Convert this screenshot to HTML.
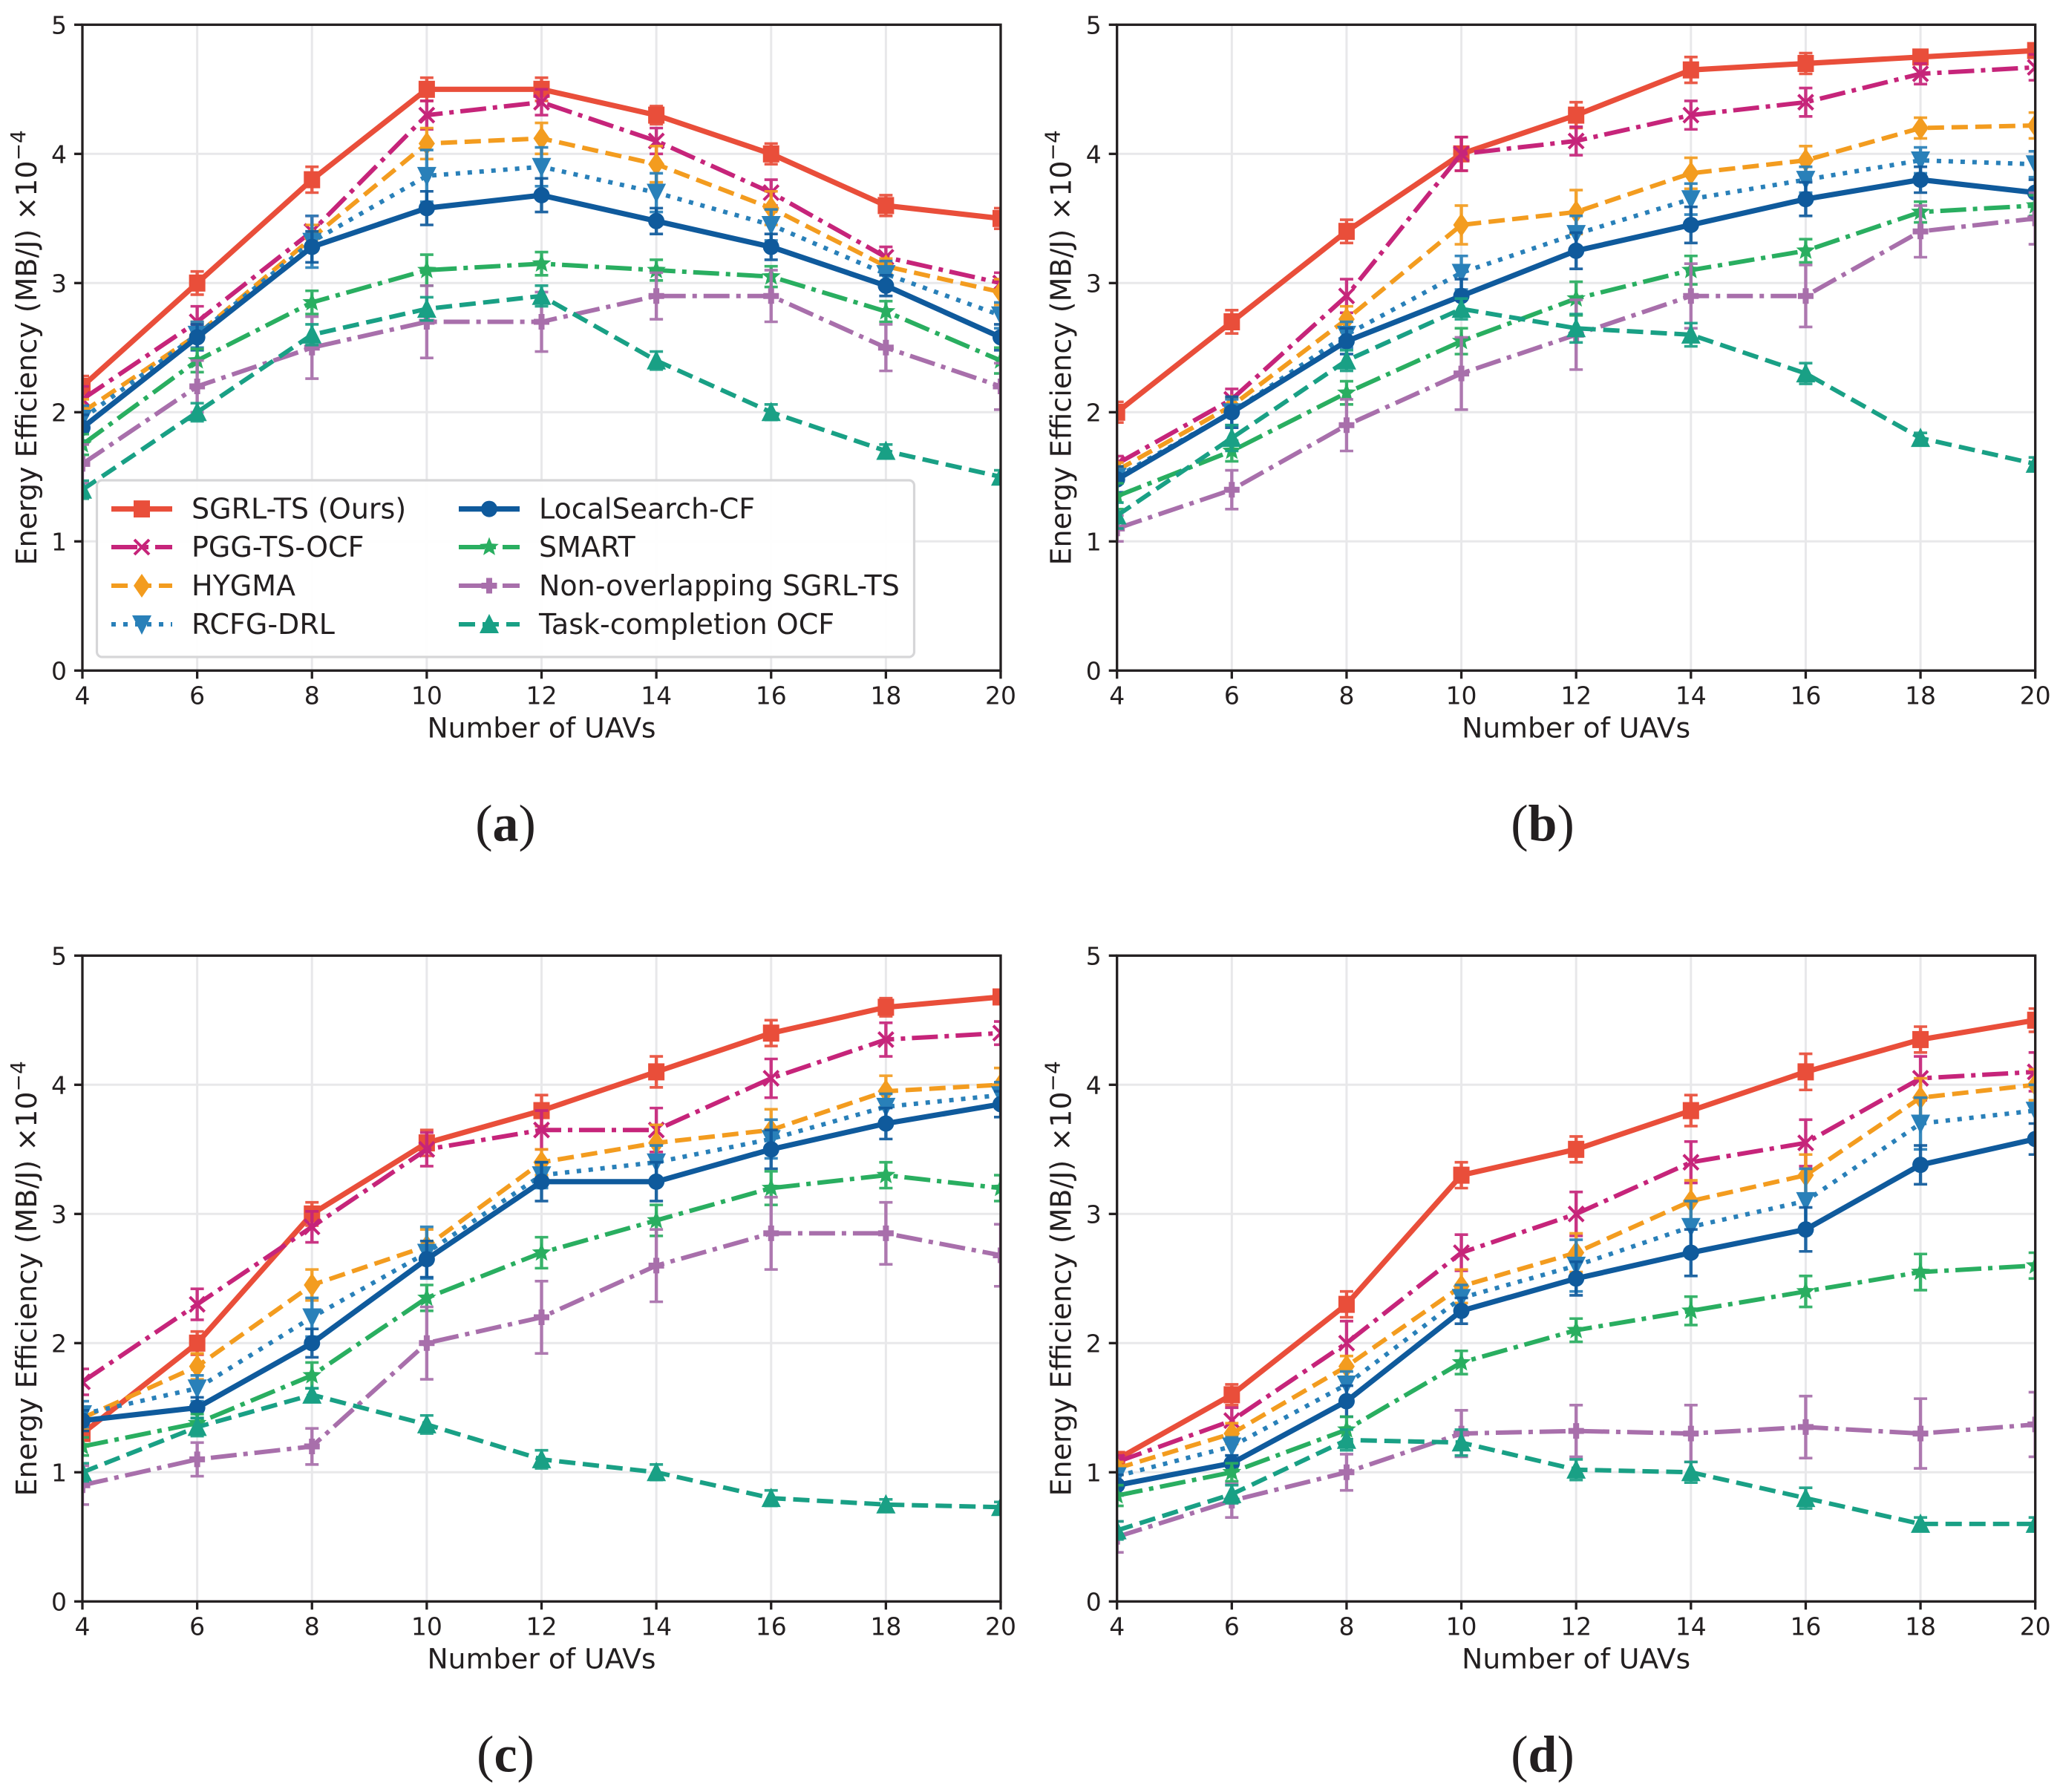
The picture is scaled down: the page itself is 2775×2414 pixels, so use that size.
<!DOCTYPE html>
<html lang="en">
<head>
<meta charset="utf-8">
<title>Energy efficiency versus number of UAVs</title>
<style>
html,body{margin:0;padding:0;background:#fff;}
#chart{display:block;position:absolute;left:0;top:0;}
text{fill:#231f20;font-family:"DejaVu Sans","Liberation Sans",sans-serif;}
.cap{font-family:"Liberation Serif","DejaVu Serif",serif;}
</style>
</head>
<body>
<svg id="chart" xmlns="http://www.w3.org/2000/svg" width="2775" height="2414" viewBox="0 0 2775 2414"></svg>
<script>
// ---- shared axes data ----
const uavCounts = [4, 6, 8, 10, 12, 14, 16, 18, 20];
const xTickLabels = ['4', '6', '8', '10', '12', '14', '16', '18', '20'];
const yTickLabels = ['0', '1', '2', '3', '4', '5'];
const seriesLabels = ['SGRL-TS (Ours)', 'PGG-TS-OCF', 'HYGMA', 'RCFG-DRL', 'LocalSearch-CF', 'SMART', 'Non-overlapping SGRL-TS', 'Task-completion OCF'];

// ---- panel (a) ----
const aSgrl = [2.2, 3.0, 3.8, 4.5, 4.5, 4.3, 4.0, 3.6, 3.5];
const aPgg = [2.1, 2.7, 3.4, 4.3, 4.4, 4.1, 3.7, 3.2, 3.0];
const aHygma = [2.0, 2.6, 3.35, 4.08, 4.12, 3.92, 3.58, 3.13, 2.93];
const aRcfg = [1.95, 2.6, 3.32, 3.83, 3.9, 3.7, 3.45, 3.07, 2.75];
const aLocal = [1.88, 2.58, 3.28, 3.58, 3.68, 3.48, 3.28, 2.98, 2.58];
const aSmart = [1.75, 2.4, 2.85, 3.1, 3.15, 3.1, 3.05, 2.78, 2.4];
const aNon = [1.6, 2.2, 2.5, 2.7, 2.7, 2.9, 2.9, 2.5, 2.2];
const aTask = [1.4, 2.0, 2.6, 2.8, 2.9, 2.4, 2.0, 1.7, 1.5];
const aSgrlErr = [0.08, 0.09, 0.1, 0.09, 0.09, 0.07, 0.08, 0.08, 0.08];
const aPggErr = [0.1, 0.12, 0.12, 0.11, 0.1, 0.1, 0.1, 0.08, 0.08];
const aHygmaErr = [0.1, 0.1, 0.1, 0.12, 0.12, 0.14, 0.13, 0.06, 0.1];
const aRcfgErr = [0.1, 0.1, 0.2, 0.2, 0.15, 0.15, 0.12, 0.1, 0.1];
const aLocalErr = [0.1, 0.1, 0.12, 0.13, 0.13, 0.1, 0.1, 0.08, 0.1];
const aSmartErr = [0.08, 0.09, 0.09, 0.12, 0.09, 0.08, 0.08, 0.08, 0.1];
const aNonErr = [0.15, 0.2, 0.24, 0.28, 0.23, 0.18, 0.2, 0.18, 0.18];
const aTaskErr = [0.07, 0.07, 0.08, 0.09, 0.08, 0.07, 0.06, 0.05, 0.05];

// ---- panel (b) ----
const bSgrl = [2.0, 2.7, 3.4, 4.0, 4.3, 4.65, 4.7, 4.75, 4.8];
const bPgg = [1.6, 2.1, 2.9, 4.0, 4.1, 4.3, 4.4, 4.62, 4.67];
const bHygma = [1.55, 2.05, 2.72, 3.45, 3.55, 3.85, 3.95, 4.2, 4.22];
const bRcfg = [1.5, 2.0, 2.6, 3.08, 3.38, 3.65, 3.8, 3.95, 3.92];
const bLocal = [1.48, 2.0, 2.55, 2.9, 3.25, 3.45, 3.65, 3.8, 3.7];
const bSmart = [1.35, 1.7, 2.15, 2.55, 2.88, 3.1, 3.25, 3.55, 3.6];
const bNon = [1.1, 1.4, 1.9, 2.3, 2.6, 2.9, 2.9, 3.4, 3.5];
const bTask = [1.2, 1.8, 2.4, 2.8, 2.65, 2.6, 2.3, 1.8, 1.6];
const bSgrlErr = [0.08, 0.09, 0.09, 0.13, 0.1, 0.1, 0.08, 0.05, 0.05];
const bPggErr = [0.06, 0.08, 0.13, 0.13, 0.11, 0.11, 0.11, 0.08, 0.1];
const bHygmaErr = [0.06, 0.06, 0.1, 0.15, 0.17, 0.12, 0.11, 0.08, 0.1];
const bRcfgErr = [0.05, 0.1, 0.1, 0.13, 0.14, 0.12, 0.1, 0.1, 0.1];
const bLocalErr = [0.1, 0.12, 0.1, 0.13, 0.14, 0.14, 0.13, 0.1, 0.1];
const bSmartErr = [0.1, 0.08, 0.09, 0.1, 0.13, 0.11, 0.09, 0.08, 0.08];
const bNonErr = [0.1, 0.15, 0.2, 0.28, 0.27, 0.25, 0.24, 0.2, 0.2];
const bTaskErr = [0.1, 0.1, 0.08, 0.08, 0.11, 0.09, 0.08, 0.04, 0.05];

// ---- panel (c) ----
const cSgrl = [1.3, 2.0, 3.0, 3.55, 3.8, 4.1, 4.4, 4.6, 4.68];
const cPgg = [1.7, 2.3, 2.9, 3.5, 3.65, 3.65, 4.05, 4.35, 4.4];
const cHygma = [1.42, 1.82, 2.45, 2.75, 3.4, 3.55, 3.65, 3.95, 4.0];
const cRcfg = [1.45, 1.65, 2.2, 2.7, 3.3, 3.4, 3.58, 3.83, 3.92];
const cLocal = [1.4, 1.5, 2.0, 2.65, 3.25, 3.25, 3.5, 3.7, 3.85];
const cSmart = [1.2, 1.38, 1.75, 2.35, 2.7, 2.95, 3.2, 3.3, 3.2];
const cNon = [0.9, 1.1, 1.2, 2.0, 2.2, 2.6, 2.85, 2.85, 2.68];
const cTask = [1.0, 1.35, 1.6, 1.37, 1.1, 1.0, 0.8, 0.75, 0.73];
const cSgrlErr = [0.1, 0.09, 0.09, 0.1, 0.12, 0.12, 0.1, 0.07, 0.05];
const cPggErr = [0.1, 0.12, 0.12, 0.13, 0.15, 0.17, 0.15, 0.13, 0.09];
const cHygmaErr = [0.08, 0.1, 0.12, 0.13, 0.1, 0.14, 0.16, 0.12, 0.13];
const cRcfgErr = [0.1, 0.1, 0.15, 0.2, 0.1, 0.13, 0.15, 0.1, 0.1];
const cLocalErr = [0.08, 0.08, 0.11, 0.14, 0.15, 0.15, 0.15, 0.12, 0.1];
const cSmartErr = [0.07, 0.07, 0.1, 0.1, 0.12, 0.12, 0.13, 0.1, 0.1];
const cNonErr = [0.15, 0.13, 0.14, 0.28, 0.28, 0.28, 0.28, 0.24, 0.24];
const cTaskErr = [0.07, 0.07, 0.05, 0.07, 0.07, 0.06, 0.06, 0.04, 0.04];

// ---- panel (d) ----
const dSgrl = [1.1, 1.6, 2.3, 3.3, 3.5, 3.8, 4.1, 4.35, 4.5];
const dPgg = [1.08, 1.4, 2.0, 2.7, 3.0, 3.4, 3.55, 4.05, 4.1];
const dHygma = [1.03, 1.3, 1.82, 2.44, 2.7, 3.1, 3.3, 3.9, 4.0];
const dRcfg = [0.97, 1.2, 1.68, 2.35, 2.6, 2.9, 3.1, 3.7, 3.8];
const dLocal = [0.9, 1.07, 1.55, 2.25, 2.5, 2.7, 2.88, 3.38, 3.58];
const dSmart = [0.82, 1.0, 1.33, 1.85, 2.1, 2.25, 2.4, 2.55, 2.6];
const dNon = [0.5, 0.78, 1.0, 1.3, 1.32, 1.3, 1.35, 1.3, 1.37];
const dTask = [0.55, 0.83, 1.25, 1.23, 1.02, 1.0, 0.8, 0.6, 0.6];
const dSgrlErr = [0.05, 0.08, 0.1, 0.1, 0.1, 0.12, 0.14, 0.1, 0.09];
const dPggErr = [0.05, 0.1, 0.17, 0.14, 0.17, 0.16, 0.18, 0.17, 0.15];
const dHygmaErr = [0.05, 0.08, 0.08, 0.13, 0.15, 0.16, 0.16, 0.15, 0.12];
const dRcfgErr = [0.05, 0.07, 0.1, 0.1, 0.2, 0.2, 0.25, 0.2, 0.2];
const dLocalErr = [0.08, 0.06, 0.12, 0.1, 0.13, 0.18, 0.17, 0.15, 0.12];
const dSmartErr = [0.08, 0.07, 0.1, 0.09, 0.09, 0.11, 0.12, 0.14, 0.1];
const dNonErr = [0.12, 0.13, 0.14, 0.18, 0.2, 0.22, 0.24, 0.27, 0.25];
const dTaskErr = [0.07, 0.07, 0.08, 0.1, 0.08, 0.08, 0.08, 0.05, 0.05];

const aMeans = [aSgrl, aPgg, aHygma, aRcfg, aLocal, aSmart, aNon, aTask];
const aErrors = [aSgrlErr, aPggErr, aHygmaErr, aRcfgErr, aLocalErr, aSmartErr, aNonErr, aTaskErr];
const bMeans = [bSgrl, bPgg, bHygma, bRcfg, bLocal, bSmart, bNon, bTask];
const bErrors = [bSgrlErr, bPggErr, bHygmaErr, bRcfgErr, bLocalErr, bSmartErr, bNonErr, bTaskErr];
const cMeans = [cSgrl, cPgg, cHygma, cRcfg, cLocal, cSmart, cNon, cTask];
const cErrors = [cSgrlErr, cPggErr, cHygmaErr, cRcfgErr, cLocalErr, cSmartErr, cNonErr, cTaskErr];
const dMeans = [dSgrl, dPgg, dHygma, dRcfg, dLocal, dSmart, dNon, dTask];
const dErrors = [dSgrlErr, dPggErr, dHygmaErr, dRcfgErr, dLocalErr, dSmartErr, dNonErr, dTaskErr];

// ---- layout & style (not data) ----
const SVGNS = 'http://www.w3.org/2000/svg';
const INK = '#231f20';
const PLOT_W = 1237, PLOT_H = 870;
const colors = ['#e94e3a', '#c6247a', '#f39c1f', '#2980b9', '#0f5a9c', '#29ae60', '#a86fab', '#19a085'];
const widths = [7.2, 6, 6, 6, 7.2, 6, 6, 6];
const dashes = ['', '35 9 6 9', '22 10', '6 10', '', '35 9 6 9', '35 9 6 9', '22 10'];
const markers = ['square', 'x', 'thin-diamond', 'triangle-down', 'circle', 'star', 'plus', 'triangle-up'];

const root = document.getElementById('chart');
const defs = document.createElementNS(SVGNS, 'defs');
root.appendChild(defs);

function make(tag, attrs, parent) {
  const el = document.createElementNS(SVGNS, tag);
  for (const k in attrs) el.setAttribute(k, attrs[k]);
  parent.appendChild(el);
  return el;
}

function drawMarker(parent, kind, cx, cy, color) {
  let m;
  if (kind === 'square') {
    m = make('rect', {x: cx - 11, y: cy - 11.5, width: 22, height: 23, fill: color}, parent);
  } else if (kind === 'circle') {
    m = make('circle', {cx: cx, cy: cy, r: 11, fill: color}, parent);
  } else if (kind === 'x') {
    const d = 'M' + (cx - 10) + ' ' + (cy - 10) + 'L' + (cx + 10) + ' ' + (cy + 10) + 'M' + (cx - 10) + ' ' + (cy + 10) + 'L' + (cx + 10) + ' ' + (cy - 10);
    m = make('path', {d: d, stroke: color, 'stroke-width': 4, fill: 'none'}, parent);
  } else if (kind === 'thin-diamond') {
    const d = 'M' + cx + ' ' + (cy - 16) + 'L' + (cx + 11) + ' ' + cy + 'L' + cx + ' ' + (cy + 16) + 'L' + (cx - 11) + ' ' + cy + 'Z';
    m = make('path', {d: d, fill: color}, parent);
  } else if (kind === 'triangle-down') {
    const d = 'M' + (cx - 13) + ' ' + (cy - 12) + 'L' + (cx + 13) + ' ' + (cy - 12) + 'L' + cx + ' ' + (cy + 14) + 'Z';
    m = make('path', {d: d, fill: color}, parent);
  } else if (kind === 'triangle-up') {
    const d = 'M' + (cx - 13) + ' ' + (cy + 12) + 'L' + (cx + 13) + ' ' + (cy + 12) + 'L' + cx + ' ' + (cy - 14) + 'Z';
    m = make('path', {d: d, fill: color}, parent);
  } else if (kind === 'plus') {
    const a = 10.5, b = 4;
    const d = 'M' + (cx - b) + ' ' + (cy - a) + 'H' + (cx + b) + 'V' + (cy - b) + 'H' + (cx + a) + 'V' + (cy + b) + 'H' + (cx + b) + 'V' + (cy + a) + 'H' + (cx - b) + 'V' + (cy + b) + 'H' + (cx - a) + 'V' + (cy - b) + 'H' + (cx - b) + 'Z';
    m = make('path', {d: d, fill: color}, parent);
  } else {
    let d = '';
    for (let i = 0; i < 10; i++) {
      const r = i % 2 === 0 ? 13.5 : 5.8;
      const ang = -Math.PI / 2 + i * Math.PI / 5;
      d += (i === 0 ? 'M' : 'L') + (cx + r * Math.cos(ang)).toFixed(2) + ' ' + (cy + r * Math.sin(ang)).toFixed(2);
    }
    m = make('path', {d: d + 'Z', fill: color}, parent);
  }
  return m;
}

function drawPanel(letter, left, bottom, captionX, means, errors) {
  const top = bottom - PLOT_H;
  const right = left + PLOT_W;
  const xScale = v => left + (v - uavCounts[0]) / (uavCounts[uavCounts.length - 1] - uavCounts[0]) * PLOT_W;
  const yScale = v => bottom - v / (yTickLabels.length - 1) * PLOT_H;

  const panel = make('g', {}, root);
  
  

  const clip = make('clipPath', {id: 'clip-' + letter}, defs);
  make('rect', {x: left, y: top, width: PLOT_W, height: PLOT_H}, clip);

  // grid
  const grid = make('g', {stroke: '#e8e8ea', 'stroke-width': 3}, panel);
  
  
  uavCounts.forEach(v => {
    const ln = make('line', {x1: xScale(v), x2: xScale(v), y1: top, y2: bottom}, grid);
    
    
  });
  yTickLabels.forEach(t => {
    const ln = make('line', {x1: left, x2: right, y1: yScale(+t), y2: yScale(+t)}, grid);
    
    
  });

  // series
  const plot = make('g', {'clip-path': 'url(#clip-' + letter + ')'}, panel);
  
  
  means.forEach((vals, s) => {
    const color = colors[s];
    const group = make('g', {}, plot);
    
    

    const errGroup = make('g', {stroke: color, opacity: 0.92}, group);
    
    
    vals.forEach((v, i) => {
      const x = xScale(uavCounts[i]);
      const hi = yScale(v + errors[s][i]);
      const lo = yScale(v - errors[s][i]);
      const stem = make('line', {x1: x, x2: x, y1: hi, y2: lo, 'stroke-width': 4.4}, errGroup);
      
      
      const capTop = make('line', {x1: x - 9, x2: x + 9, y1: hi, y2: hi, 'stroke-width': 3.6}, errGroup);
      
      
      const capBottom = make('line', {x1: x - 9, x2: x + 9, y1: lo, y2: lo, 'stroke-width': 3.6}, errGroup);
      
      
    });

    const pts = vals.map((v, i) => xScale(uavCounts[i]).toFixed(2) + ',' + yScale(v).toFixed(2)).join(' ');
    const line = make('polyline', {points: pts, fill: 'none', stroke: color, 'stroke-width': widths[s], 'stroke-linejoin': 'round'}, group);
    if (dashes[s]) line.setAttribute('stroke-dasharray', dashes[s]);
    
    

    vals.forEach((v, i) => {
      const mk = drawMarker(group, markers[s], xScale(uavCounts[i]), yScale(v), color);
      
      
    });
  });

  // spines
  const frame = make('rect', {x: left, y: top, width: PLOT_W, height: PLOT_H, fill: 'none', stroke: INK, 'stroke-width': 3.3}, panel);
  
  

  // x ticks
  uavCounts.forEach((v, i) => {
    const tick = make('line', {x1: xScale(v), x2: xScale(v), y1: bottom, y2: bottom + 11, stroke: INK, 'stroke-width': 3.3}, panel);
    
    
    const lab = make('text', {x: xScale(v), y: bottom + 45, 'text-anchor': 'middle', 'font-size': 33}, panel);
    lab.textContent = xTickLabels[i];
    
    
  });

  // y ticks
  yTickLabels.forEach(t => {
    const tick = make('line', {x1: left - 11, x2: left, y1: yScale(+t), y2: yScale(+t), stroke: INK, 'stroke-width': 3.3}, panel);
    
    
    const lab = make('text', {x: left - 21, y: yScale(+t) + 12, 'text-anchor': 'end', 'font-size': 33}, panel);
    lab.textContent = t;
    
    
  });

  // axis titles
  const xTitle = make('text', {x: left + PLOT_W / 2, y: bottom + 90, 'text-anchor': 'middle', 'font-size': 37.5, textLength: 308, lengthAdjust: 'spacingAndGlyphs'}, panel);
  xTitle.textContent = 'Number of UAVs';
  
  

  const yCenter = (top + bottom) / 2;
  const yTitle = make('text', {transform: 'translate(' + (left - 62) + ' ' + yCenter + ') rotate(-90)', 'text-anchor': 'middle', 'font-size': 38}, panel);
  
  
  yTitle.textContent = 'Energy Efficiency (MB/J) ×10';
  const sup = make('tspan', {dy: -15, 'font-size': 28}, yTitle);
  sup.textContent = '−4';

  // caption
  const caption = make('text', {x: captionX, y: bottom + 229, 'text-anchor': 'middle', 'font-size': 70, class: 'cap'}, panel);
  
  
  const openParen = make('tspan', {}, caption);
  openParen.textContent = '(';
  const capLetter = make('tspan', {'font-weight': 'bold'}, caption);
  capLetter.textContent = letter;
  const closeParen = make('tspan', {}, caption);
  closeParen.textContent = ')';
}

drawPanel('a', 111, 903.3, 681, aMeans, aErrors);
drawPanel('b', 1504.7, 903.3, 2078, bMeans, bErrors);
drawPanel('c', 111, 2157.3, 681, cMeans, cErrors);
drawPanel('d', 1504.7, 2157.3, 2078, dMeans, dErrors);

// ---- legend in panel (a) ----
const legend = make('g', {}, root);


const legendBox = make('rect', {x: 130.5, y: 647, width: 1101, height: 238, rx: 7, ry: 7, fill: '#fff', 'fill-opacity': 0.94, stroke: '#d6d6d8', 'stroke-width': 3.2}, legend);


const legendRowY = [685.6, 737, 789, 841];
const legendColX = [150, 618];
const legendTextX = [258, 726];
seriesLabels.forEach((label, s) => {
  const col = s < 4 ? 0 : 1;
  const row = s % 4;
  const y = legendRowY[row];
  const x0 = legendColX[col];
  const entry = make('g', {}, legend);
  
  
  const handle = make('line', {x1: x0, x2: x0 + 82, y1: y, y2: y, stroke: colors[s], 'stroke-width': widths[s]}, entry);
  if (dashes[s]) handle.setAttribute('stroke-dasharray', dashes[s]);
  
  
  const mk = drawMarker(entry, markers[s], x0 + 41, y, colors[s]);
  
  
  const t = make('text', {x: legendTextX[col], y: y + 13, 'font-size': 38}, entry);
  t.textContent = label;
  
  
});
</script>
</body>
</html>
